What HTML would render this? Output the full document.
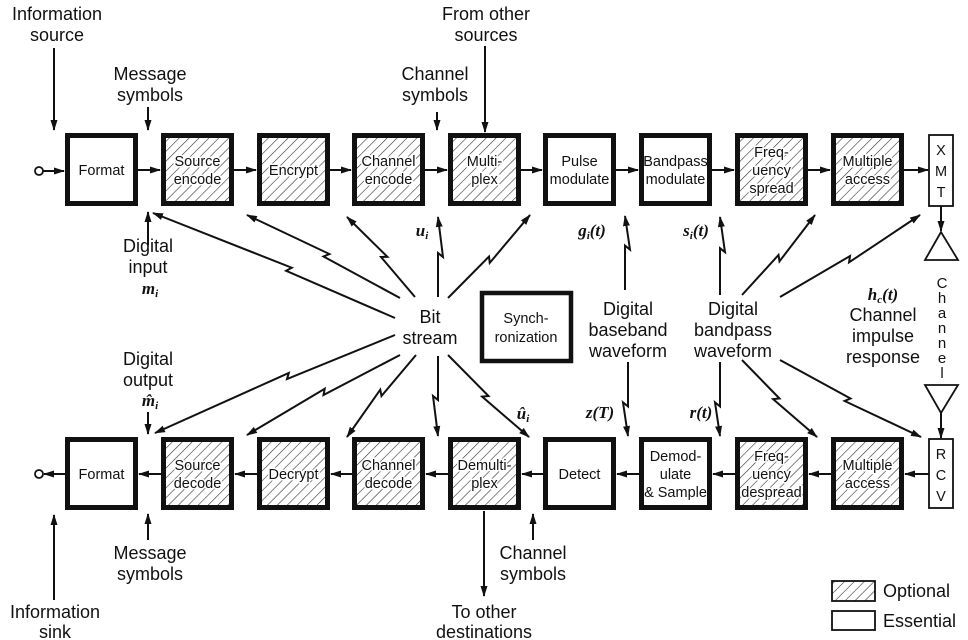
<!DOCTYPE html>
<html><head><meta charset="utf-8"><style>
html,body{margin:0;padding:0;background:#fff;}
svg{display:block;}
text{font-family:"Liberation Sans",Arial,sans-serif;fill:#111;}
.lb{font-size:18px;text-anchor:middle;}
.bx{font-size:14.5px;text-anchor:middle;}
.m{font-family:"Liberation Serif",serif;font-style:italic;font-weight:bold;font-size:17px;text-anchor:middle;}
</style></head><body>
<svg id="s" width="968" height="640" viewBox="0 0 968 640" xmlns="http://www.w3.org/2000/svg">
<defs>
<marker id="a" markerUnits="userSpaceOnUse" markerWidth="11" markerHeight="8" refX="10" refY="4" orient="auto"><path d="M0,0.5 L11,4 L0,7.5 z" fill="#111"/></marker>
<pattern id="h" patternUnits="userSpaceOnUse" width="7" height="7" patternTransform="rotate(45)"><line x1="0" y1="0" x2="0" y2="7" stroke="#333" stroke-width="1.2"/></pattern>
</defs>
<g id="boxes"></g>
<g id="lines" stroke="#111" stroke-width="2" fill="none"></g>

<rect x="929" y="135" width="24" height="71" fill="#fff" stroke="#111" stroke-width="1.8"/>
<text class="bx" x="941" y="155" font-size="15">X</text><text class="bx" x="941" y="176" font-size="15">M</text><text class="bx" x="941" y="197" font-size="15">T</text>
<rect x="929" y="439" width="24" height="69" fill="#fff" stroke="#111" stroke-width="1.8"/>
<text class="bx" x="941" y="459" font-size="15">R</text><text class="bx" x="941" y="480" font-size="15">C</text><text class="bx" x="941" y="501" font-size="15">V</text>
<polygon points="941,232 925,260 958,260" fill="#fff" stroke="#111" stroke-width="1.8"/>
<polygon points="925,385 958,385 941,413" fill="#fff" stroke="#111" stroke-width="1.8"/>
<g font-size="15" text-anchor="middle">
<text x="942" y="288">C</text><text x="942" y="303">h</text><text x="942" y="318">a</text><text x="942" y="333">n</text><text x="942" y="348">n</text><text x="942" y="363">e</text><text x="942" y="378">l</text>
</g>

<rect x="482" y="293" width="89" height="68" fill="#fff" stroke="#111" stroke-width="4.5"/>
<text class="bx" x="526" y="323">Synch-</text><text class="bx" x="526" y="342">ronization</text>

<text class="lb" x="57" y="20">Information</text><text class="lb" x="57" y="41">source</text>
<text class="lb" x="150" y="80">Message</text><text class="lb" x="150" y="101">symbols</text>
<text class="lb" x="435" y="80">Channel</text><text class="lb" x="435" y="101">symbols</text>
<text class="lb" x="486" y="20">From other</text><text class="lb" x="486" y="41">sources</text>
<text class="lb" x="148" y="252">Digital</text><text class="lb" x="148" y="273">input</text>
<text class="m" x="150" y="294">m<tspan font-size="11" dy="3">i</tspan></text>
<text class="lb" x="148" y="365">Digital</text><text class="lb" x="148" y="386">output</text>
<text class="m" x="150" y="406">m̂<tspan font-size="11" dy="3">i</tspan></text>
<text class="lb" x="430" y="323">Bit</text><text class="lb" x="430" y="344">stream</text>
<text class="lb" x="628" y="315">Digital</text><text class="lb" x="628" y="336">baseband</text><text class="lb" x="628" y="357">waveform</text>
<text class="lb" x="733" y="315">Digital</text><text class="lb" x="733" y="336">bandpass</text><text class="lb" x="733" y="357">waveform</text>
<text class="m" x="883" y="300">h<tspan font-size="11" dy="3">c</tspan><tspan dy="-3">(t)</tspan></text>
<text class="lb" x="883" y="321">Channel</text><text class="lb" x="883" y="342">impulse</text><text class="lb" x="883" y="363">response</text>
<text class="m" x="422" y="236">u<tspan font-size="11" dy="3">i</tspan></text>
<text class="m" x="592" y="236">g<tspan font-size="11" dy="3">i</tspan><tspan dy="-3">(t)</tspan></text>
<text class="m" x="696" y="236">s<tspan font-size="11" dy="3">i</tspan><tspan dy="-3">(t)</tspan></text>
<text class="m" x="523" y="419">û<tspan font-size="11" dy="3">i</tspan></text>
<text class="m" x="600" y="418">z(T)</text>
<text class="m" x="701" y="418">r(t)</text>
<text class="lb" x="150" y="559">Message</text><text class="lb" x="150" y="580">symbols</text>
<text class="lb" x="533" y="559">Channel</text><text class="lb" x="533" y="580">symbols</text>
<text class="lb" x="55" y="618">Information</text><text class="lb" x="55" y="638">sink</text>
<text class="lb" x="484" y="618">To other</text><text class="lb" x="484" y="638">destinations</text>

<rect x="832" y="581" width="43" height="20" fill="url(#h)" stroke="#111" stroke-width="1.8"/>
<rect x="832" y="611" width="43" height="19" fill="#fff" stroke="#111" stroke-width="1.8"/>
<text x="883" y="597" font-size="18">Optional</text>
<text x="883" y="627" font-size="18">Essential</text>

<circle cx="39" cy="171" r="4" fill="#fff" stroke="#111" stroke-width="1.8"/>
<circle cx="39" cy="474" r="4" fill="#fff" stroke="#111" stroke-width="1.8"/>
</svg>
<script>
(function(){
var NS="http://www.w3.org/2000/svg";
var B=document.getElementById("boxes"),L=document.getElementById("lines");
function el(p,t,a){var e=document.createElementNS(NS,t);for(var k in a)e.setAttribute(k,a[k]);p.appendChild(e);return e;}
var xs=[65,161,257,352,448,543,639,735,831];
var topL=[["Format"],["Source","encode"],["Encrypt"],["Channel","encode"],["Multi-","plex"],["Pulse","modulate"],["Bandpass","modulate"],["Freq-","uency","spread"],["Multiple","access"]];
var botL=[["Format"],["Source","decode"],["Decrypt"],["Channel","decode"],["Demulti-","plex"],["Detect"],["Demod-","ulate","& Sample"],["Freq-","uency","despread"],["Multiple","access"]];
var hh=[0,1,1,1,1,0,0,1,1];
function box(x,y,lines,h){
 el(B,"rect",{x:x+2.5,y:y+2.5,width:68,height:68,fill:h?"url(#h)":"#fff",stroke:"#111","stroke-width":5});
 var cy=y+37,n=lines.length,start=cy+5-(n-1)*9;
 for(var i=0;i<n;i++){var t=el(B,"text",{x:x+36.5,y:start+i*18,"class":"bx"});t.textContent=lines[i];
  if(h){t.setAttribute("style","paint-order:stroke;stroke:#fff;stroke-width:3px");}}
}
for(var i=0;i<9;i++){box(xs[i],133,topL[i],hh[i]);box(xs[i],437,botL[i],hh[i]);}
function ar(x1,y1,x2,y2){el(L,"line",{x1:x1,y1:y1,x2:x2,y2:y2,"marker-end":"url(#a)"});}
function zz(x1,y1,x2,y2,t){t=t||0.5;var dx=x2-x1,dy=y2-y1,l=Math.hypot(dx,dy),ux=dx/l,uy=dy/l,nx=-uy,ny=ux;
 var px=x1+dx*t,py=y1+dy*t;
 var p2x=px+nx*5-ux*4,p2y=py+ny*5-uy*4;
 el(L,"polyline",{points:x1+","+y1+" "+px+","+py+" "+p2x+","+p2y+" "+x2+","+y2,"marker-end":"url(#a)"});}
ar(43,171,64,171);
for(var i=0;i<8;i++){ar(xs[i]+73,170,xs[i+1]-1,170);}
ar(904,170,928,170);
for(var i=0;i<8;i++){ar(xs[i+1],474,xs[i]+74,474);}
ar(929,474,905,474);
ar(65,474,44,474);
ar(941,206,941,231);ar(941,413,941,438);
ar(54,48,54,130);ar(148,107,148,130);ar(437,112,437,130);ar(485,46,485,132);
ar(148,245,148,212);ar(148,412,148,434);
ar(148,540,148,514);ar(54,600,54,515);ar(533,540,533,514);ar(484,511,484,596);
zz(395,318,153,213,0.45);zz(400,298,247,215);zz(415,297,347,217);
zz(438,297,438,217,0.55);zz(448,298,530,215);
zz(395,335,155,433,0.45);zz(400,355,247,435);zz(416,355,347,437);
zz(438,356,438,436,0.55);zz(448,355,529,437);
zz(625,290,625,216,0.6);zz(628,362,628,436,0.6);
zz(720,295,720,217,0.6);zz(720,362,720,436,0.6);
zz(742,295,815,215);zz(780,297,920,215);
zz(742,360,817,437);zz(780,360,921,437);
})();
</script>
</body></html>
